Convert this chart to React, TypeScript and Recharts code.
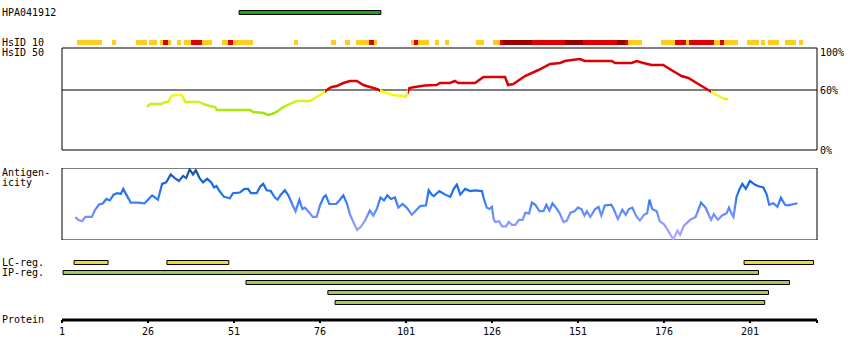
import { ComposedChart, Line, XAxis, YAxis, ReferenceArea, ReferenceLine } from 'recharts';

const SEQ_END = 220.5;
const CHART_W = 850;
const MARGIN = { top: 0, right: 33, bottom: 0, left: 62 };
const FONT = 'DejaVu Sans Mono';

const positionTicks = [1, 26, 51, 76, 101, 126, 151, 176, 201];
const identityTicks = [0, 60, 100];

const antigenName = 'HPA041912';
const antigenRange = [52.5, 93.7];

// HsID 10 track: start, end, level (0 yellow, 1 red, 2 dark red)
const hsid10Segments: [number, number, number][] = [
  [5.4, 12.5, 0], [15.5, 16.6, 0], [22.5, 25.7, 0], [26.3, 28.6, 0], [29.5, 30.4, 0], [30.4, 31.7, 1],
  [31.7, 32.7, 0], [34.4, 35.6, 0], [36.5, 38.5, 0], [38.5, 41.7, 1], [41.7, 44.6, 0], [47.5, 49.3, 0],
  [49.3, 50.7, 1], [50.7, 56.5, 0], [68.4, 69.5, 0], [79.2, 80.7, 0], [83.3, 84.7, 0], [86.5, 90.2, 0],
  [90.2, 91.7, 1], [91.7, 92.6, 0], [102.5, 103.3, 0], [103.3, 104.5, 1], [104.5, 107.7, 0], [109.4, 110.6, 0],
  [112.3, 113.5, 0], [121.3, 123.7, 0], [126.3, 128.3, 0], [128.3, 129.2, 1], [129.2, 137.6, 2], [137.6, 147.2, 1],
  [147.2, 152.5, 2], [152.5, 162.3, 1], [162.3, 164.7, 2], [164.7, 165.5, 1], [165.5, 169.6, 0], [175.1, 179.2, 0],
  [179.2, 182.4, 1], [182.4, 183.3, 0], [183.3, 190.5, 1], [190.5, 192.3, 0], [192.3, 193.5, 1], [193.5, 197.5, 0],
  [200.1, 203.6, 0], [204.2, 205.4, 0], [206.2, 209.4, 0], [211.2, 214.4, 0], [215.2, 216.4, 0],
];
const hsidColors = ['#ffcc22', '#e00000', '#990000'];

// HsID 50 identity (%)
const identityPos = [
  25.8, 26.6, 30.0, 30.9, 31.9, 32.9, 33.8, 35.8, 36.8, 40.9, 42.1, 44.0, 45.5, 46.0, 55.7, 56.6, 59.5, 61.0,
  62.0, 63.4, 65.3, 67.3, 69.2, 73.1, 74.5, 76.5, 78.4, 79.4, 80.9, 82.8, 84.7, 86.7, 88.6, 90.5, 92.5, 94.4,
  97.3, 100.2, 101.0, 102.0, 103.6, 106.5, 109.9, 110.9, 113.8, 115.2, 116.2, 121.1, 123.5, 129.8, 130.7, 132.2,
  135.6, 139.5, 142.9, 145.8, 147.2, 149.2, 151.6, 153.0, 160.8, 161.8, 166.6, 168.1, 170.0, 172.4, 175.8, 177.2,
  181.1, 183.1, 186.0, 188.4, 190.8, 193.7, 194.7,
];
const identityVal = [
  43, 46, 46, 48, 48, 54, 55, 55, 48, 48, 46, 44, 43, 40, 40, 38, 37, 35,
  36, 38, 43, 46, 49, 49, 52, 56, 61, 63, 64, 67, 69, 69, 65, 63, 61, 58,
  55, 54, 53, 62, 63, 64.5, 65, 67, 67, 69, 67, 67, 73, 73, 65, 66,
  74, 80, 86, 87, 89, 90, 91, 89, 89, 87, 87, 89, 87, 85, 85, 82,
  74, 72, 66, 61, 56, 51, 51,
];

// Antigenicity (relative, 0 bottom of box, 100 top)
const antigenicityPos = [
  4.9, 5.7, 6.8, 7.8, 9.7, 10.5, 11.7, 12.9, 13.9, 14.9, 16.0, 17.1, 18.1, 18.8, 19.7, 21.0, 23.1, 25.0, 26.0, 27.2,
  28.1, 28.9, 30.1, 31.3, 32.6, 33.8, 35.0, 36.2, 37.1, 38.1, 39.1, 39.9, 41.0, 42.0, 43.2, 44.4, 45.2, 45.9, 46.8, 48.1,
  49.8, 50.7, 52.7, 54.1, 55.1, 55.9, 57.6, 58.6, 59.5, 60.5, 61.7, 62.9, 63.7, 64.6, 65.8, 66.8, 68.1, 68.9, 70.0, 70.9,
  71.6, 73.1, 73.9, 75.0, 76.0, 77.0, 77.7, 78.7, 80.7, 81.8, 82.8, 83.9, 84.7, 85.7, 86.8, 87.8, 89.1, 90.5, 91.5, 92.5,
  93.6, 94.6, 95.6, 96.6, 97.8, 98.8, 100.0, 101.4, 102.7, 104.1, 105.1, 106.8, 107.6, 108.5, 109.1, 110.7, 112.4, 113.9, 114.9, 115.8,
  116.8, 118.2, 119.7, 121.1, 123.1, 123.6, 124.5, 125.2, 126.0, 126.5, 127.0, 128.1, 128.9, 130.1, 130.9, 131.8, 132.8, 133.8, 134.9, 135.7,
  136.8, 137.6, 138.6, 139.8, 141.0, 141.8, 142.7, 143.6, 144.6, 145.6, 146.8, 147.8, 148.8, 150.0, 151.0, 152.0, 152.9, 153.6, 154.6, 156.0,
  157.0, 157.8, 158.8, 160.7, 161.5, 162.6, 163.9, 164.9, 165.8, 166.8, 168.1, 169.0, 170.2, 171.1, 171.8, 172.6, 173.9, 174.8, 176.0, 177.2,
  178.7, 179.9, 180.7, 181.8, 183.6, 185.2, 186.8, 188.1, 189.7, 190.5, 191.7, 192.9, 194.2, 194.9, 195.6, 196.2, 197.1, 198.1, 198.8, 199.8,
  201.0, 202.4, 203.3, 204.9, 205.9, 206.6, 207.8, 209.0, 210.0, 211.2, 212.1, 213.8, 214.8,
];
const antigenicityVal = [
  32, 28, 26, 32, 32, 41, 49, 51, 57, 55, 63, 65, 64, 71, 63, 52, 52, 51, 56, 62,
  59, 56, 78, 80, 91, 86, 82, 89, 86, 98, 91, 97, 86, 80, 85, 80, 73, 75, 68, 60,
  58, 65, 66, 71, 71, 65, 65, 74, 78, 69, 68, 59, 56, 63, 69, 62, 48, 40, 56, 43,
  45, 37, 32, 32, 48, 59, 62, 50, 50, 56, 62, 50, 36, 25, 14, 18, 27, 41, 34, 43,
  59, 55, 62, 57, 59, 45, 50, 44, 35, 42, 47, 48, 69, 63, 61, 68, 63, 60, 71, 77,
  63, 71, 68, 69, 68, 58, 45, 43, 46, 29, 25, 26, 19, 19, 25, 21, 21, 28, 28, 38,
  37, 52, 49, 40, 40, 49, 41, 51, 45, 38, 25, 27, 38, 40, 45, 43, 34, 40, 32, 43,
  46, 34, 48, 49, 42, 29, 42, 35, 43, 45, 32, 27, 35, 37, 56, 43, 40, 26, 22, 13,
  1, 13, 7, 20, 28, 32, 52, 45, 28, 36, 28, 34, 37, 45, 37, 32, 60, 72, 78, 71,
  82, 77, 75, 73, 63, 49, 51, 46, 59, 49, 48, 50, 51,
];

const lcRegions = [[4.5, 14.4], [31.5, 49.5], [199.3, 219.5]];
const ipRegions = [[1.3, 203.5], [54.5, 212.5], [78.3, 206.4], [80.4, 205.3]];

const identityRamp: [number, string][] = [
  [35, '#99e600'], [40, '#a8e80a'], [46, '#c8f020'], [50, '#e0f020'], [54, '#f4f41a'], [58, '#ffff00'],
];
const antigenicityRamp: [number, string][] = [
  [0, '#b8aaff'], [25, '#8c94ff'], [45, '#4d86ff'], [65, '#1e72f0'], [85, '#1860d0'], [100, '#174a98'],
];

function hex(c: string) {
  return [1, 3, 5].map((i) => parseInt(c.slice(i, i + 2), 16));
}

function rampColor(stops: [number, string][], v: number) {
  if (v <= stops[0][0]) return stops[0][1];
  for (let i = 1; i < stops.length; i++) {
    if (v <= stops[i][0]) {
      const t = (v - stops[i - 1][0]) / (stops[i][0] - stops[i - 1][0]);
      const a = hex(stops[i - 1][1]);
      const b = hex(stops[i][1]);
      return 'rgb(' + a.map((x, k) => Math.round(x + (b[k] - x) * t)).join(',') + ')';
    }
  }
  return stops[stops.length - 1][1];
}

const identityColor = (v: number) => (v >= 60 ? '#dd0000' : rampColor(identityRamp, v));

function identityStops() {
  const p0 = identityPos[0];
  const span = identityPos[identityPos.length - 1] - p0;
  const stops: { off: number; color: string }[] = [];
  identityPos.forEach((p, i) => {
    if (i > 0 && identityVal[i] >= 60 !== identityVal[i - 1] >= 60) {
      const mid = ((identityPos[i - 1] + p) / 2 - p0) / span;
      stops.push({ off: mid, color: identityColor(identityVal[i - 1]) });
      stops.push({ off: mid, color: identityColor(identityVal[i]) });
    }
    stops.push({ off: (p - p0) / span, color: identityColor(identityVal[i]) });
  });
  return stops;
}

function antigenicityStops() {
  const p0 = antigenicityPos[0];
  const span = antigenicityPos[antigenicityPos.length - 1] - p0;
  return antigenicityPos.map((p, i) => ({ off: (p - p0) / span, color: rampColor(antigenicityRamp, antigenicityVal[i]) }));
}

const identityData = identityPos.map((pos, i) => ({ pos, v: identityVal[i] }));
const antigenicityData = antigenicityPos.map((pos, i) => ({ pos, v: antigenicityVal[i] }));
const axisData = positionTicks.map((pos) => ({ pos }));

function Track({ top, height, rows, children }: { top: number; height: number; rows: number; children: any }) {
  return (
    <div style={{ position: 'absolute', left: 0, top }}>
      <ComposedChart width={CHART_W} height={height} margin={MARGIN}>
        <XAxis type="number" dataKey="pos" domain={[1, SEQ_END]} hide allowDataOverflow />
        <YAxis type="number" domain={[0, rows]} hide reversed allowDataOverflow />
        {children}
      </ComposedChart>
    </div>
  );
}

// right-hand % labels, the top one sits a little below its value
function PercentTick(props: any) {
  const { x, y, payload } = props;
  const shift = payload.value === 100 ? 2.5 : 0.7;
  return (
    <text x={x} y={y + shift} dy="0.355em" textAnchor="start" fontFamily={FONT} fontSize={10} fill="#000">
      {payload.value + '%'}
    </text>
  );
}

const labels: [string, number][] = [
  [antigenName, 16],
  ['HsID 10', 46],
  ['HsID 50', 56],
  ['Antigen-', 176],
  ['icity', 186],
  ['LC-reg.', 266],
  ['IP-reg.', 276],
  ['Protein', 323],
];

export default function App() {
  const tickStyle = { fill: '#000', fontSize: 10, fontFamily: FONT };
  return (
    <div style={{ position: 'absolute', left: 0, top: 0, width: 850, height: 360, background: '#fff' }}>
      {/* antigen */}
      <Track top={5} height={15} rows={3}>
        <ReferenceArea x1={antigenRange[0]} x2={antigenRange[1]} y1={1.1} y2={1.9} fill="#1fa31f" fillOpacity={1} stroke="#000" strokeWidth={1} />
      </Track>

      {/* HsID 10 */}
      <Track top={35} height={15} rows={3}>
        {hsid10Segments.map(([s, e, lvl], i) => (
          <ReferenceArea key={i} x1={s} x2={e} y1={1} y2={2} fill={hsidColors[lvl]} fillOpacity={1} stroke="none" shapeRendering="crispEdges" />
        ))}
      </Track>

      {/* HsID 50 identity */}
      <div style={{ position: 'absolute', left: 0, top: 38 }}>
        <ComposedChart width={CHART_W} height={122} margin={{ ...MARGIN, top: 10, bottom: 10, right: 3 }} data={identityData}>
          <defs>
            <linearGradient id="identityGrad" x1="0" y1="0" x2="1" y2="0">
              {identityStops().map((s, i) => (
                <stop key={i} offset={s.off} stopColor={s.color} />
              ))}
            </linearGradient>
          </defs>
          <XAxis type="number" dataKey="pos" domain={[1, SEQ_END]} hide allowDataOverflow />
          <YAxis
            orientation="right"
            type="number"
            domain={[0, 102]}
            ticks={identityTicks}
            interval={0}
            width={30}
            tickSize={0}
            tickMargin={3}
            tickLine={false}
            axisLine={false}
            tick={<PercentTick />}
            allowDataOverflow
          />
          <ReferenceArea x1={1} x2={SEQ_END} y1={0} y2={102} fill="none" stroke="#000" strokeWidth={1} />
          <ReferenceLine y={60} stroke="#000" strokeWidth={1} />
          <Line type="linear" dataKey="v" stroke="url(#identityGrad)" strokeWidth={2.5} dot={false} activeDot={false} isAnimationActive={false} />
        </ComposedChart>
      </div>

      {/* Antigenicity */}
      <div style={{ position: 'absolute', left: 0, top: 168 }}>
        <ComposedChart width={CHART_W} height={72} margin={MARGIN} data={antigenicityData}>
          <defs>
            <linearGradient id="antigenicityGrad" x1="0" y1="0" x2="1" y2="0">
              {antigenicityStops().map((s, i) => (
                <stop key={i} offset={s.off} stopColor={s.color} />
              ))}
            </linearGradient>
          </defs>
          <XAxis type="number" dataKey="pos" domain={[1, SEQ_END]} hide allowDataOverflow />
          <YAxis type="number" domain={[0, 100]} hide allowDataOverflow />
          <ReferenceArea x1={1} x2={SEQ_END} y1={0} y2={100} fill="none" stroke="#000" strokeWidth={1} />
          <Line type="linear" dataKey="v" stroke="url(#antigenicityGrad)" strokeWidth={2.2} dot={false} activeDot={false} isAnimationActive={false} />
        </ComposedChart>
      </div>

      {/* LC / IP regions */}
      <Track top={255} height={50} rows={5}>
        {lcRegions.map(([s, e], i) => (
          <ReferenceArea key={'lc' + i} x1={s} x2={e} y1={0.55} y2={0.95} fill="#f2d832" fillOpacity={1} stroke="#000" strokeWidth={1} />
        ))}
        {ipRegions.map(([s, e], i) => (
          <ReferenceArea key={'ip' + i} x1={s} x2={e} y1={i + 1.55} y2={i + 1.95} fill="#a6c85a" fillOpacity={1} stroke="#000" strokeWidth={1} />
        ))}
      </Track>

      {/* protein axis */}
      <div style={{ position: 'absolute', left: 0, top: 290 }}>
        <ComposedChart width={CHART_W} height={60} margin={MARGIN} data={axisData}>
          <XAxis
            type="number"
            dataKey="pos"
            domain={[1, SEQ_END]}
            ticks={[...positionTicks, SEQ_END]}
            interval={0}
            tickFormatter={(v) => (v === SEQ_END ? '' : String(v))}
            height={30}
            axisLine={{ stroke: '#000', strokeWidth: 3 }}
            tickLine={{ stroke: '#000', strokeWidth: 2 }}
            tickSize={3}
            tickMargin={5}
            tick={tickStyle}
            allowDataOverflow
          />
          <YAxis hide />
        </ComposedChart>
      </div>

      <svg width={850} height={360} style={{ position: 'absolute', left: 0, top: 0, pointerEvents: 'none' }}>
        {labels.map(([t, y]) => (
          <text key={t} x={2} y={y} fontFamily={FONT} fontSize={10} fill="#000">
            {t}
          </text>
        ))}
      </svg>
    </div>
  );
}
